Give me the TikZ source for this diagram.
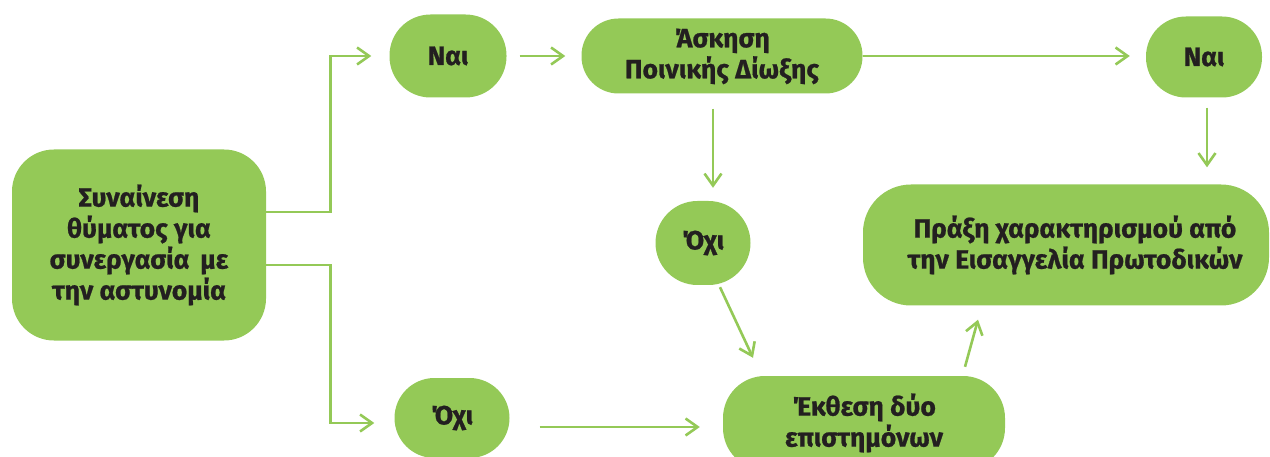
\documentclass[tikz,border=0pt]{standalone}
\usepackage{fontspec}
\setmainfont{Fira Sans}[BoldFeatures={FakeBold=0.8}]
\usetikzlibrary{arrows.meta}
\definecolor{gr}{HTML}{94C957}
\definecolor{tx}{HTML}{231F20}
\tikzset{
  box/.style={fill=gr, draw=none, inner sep=0pt, align=center, text=tx,
    font=\fontsize{26.5}{31}\selectfont\bfseries},
  arr/.style={draw=gr, line width=2.6pt, -{Straight Barb[length=12pt,width=17pt]}},
}
\begin{document}
\begin{tikzpicture}[x=1pt,y=-1pt]
\useasboundingbox (0,0) rectangle (1270,457);
\node[box, minimum width=254pt, minimum height=191pt, rounded corners=42pt] (big) at (139,245) {Συναίνεση\\θύματος για\\συνεργασία\, με\\την αστυνομία};
\node[box, minimum width=117pt, minimum height=83pt, rounded corners=41pt] (nai1) at (448,56) {Ναι};
\node[box, minimum width=281pt, minimum height=75pt, rounded corners=37pt, text depth=5pt] (ask) at (722,56) {Άσκηση\\Ποινικής Δίωξης};
\node[box, minimum width=116pt, minimum height=81pt, rounded corners=40pt] (nai2) at (1204,57) {Ναι};
\node[box, minimum width=95pt, minimum height=84pt, rounded corners=42pt] (oxi1) at (703,243) {Όχι};
\node[box, minimum width=406pt, minimum height=121pt, rounded corners=48pt] (praxi) at (1066,245) {\hspace*{18pt}Πράξη χαρακτηρισμού από\\\hspace*{18pt}την Εισαγγελία Πρωτοδικών};
\node[box, minimum width=115pt, minimum height=80pt, rounded corners=40pt] (oxi2) at (452,418) {Όχι};
\node[box, minimum width=282pt, minimum height=94pt, rounded corners=42pt] (ekth) at (864,423) {Έκθεση δύο\\επιστημόνων};

\draw[arr] ([yshift=33pt]big.east) -- ++(64,0) |- ([xshift=-18pt]nai1.west);
\draw[arr] ([yshift=-20pt]big.east) -- ++(64,0) |- ([xshift=-20pt,yshift=-5pt]oxi2.west);
\draw[arr] ([xshift=13pt]nai1.east) -- ([xshift=-16pt]ask.west);
\draw[arr] (ask.east) -- ([xshift=-16pt,yshift=1pt]nai2.west);
\draw[arr] ([xshift=-9pt,yshift=-15pt]ask.south) -- ([xshift=10pt,yshift=13pt]oxi1.north);
\draw[arr] ([xshift=3pt,yshift=-10pt]nai2.south) -- ([xshift=141pt,yshift=17pt]praxi.north);
\draw[arr] ([xshift=17pt,yshift=-2pt]oxi1.south) -- ([xshift=-111pt,yshift=18pt]ekth.north);
\draw[arr] ([xshift=30pt,yshift=-9pt]oxi2.east) -- ([xshift=-23pt,yshift=-4pt]ekth.west);
\draw[arr] ([xshift=101pt,yshift=9pt]ekth.north) -- ([xshift=-88pt,yshift=-14pt]praxi.south);
\end{tikzpicture}
\end{document}
